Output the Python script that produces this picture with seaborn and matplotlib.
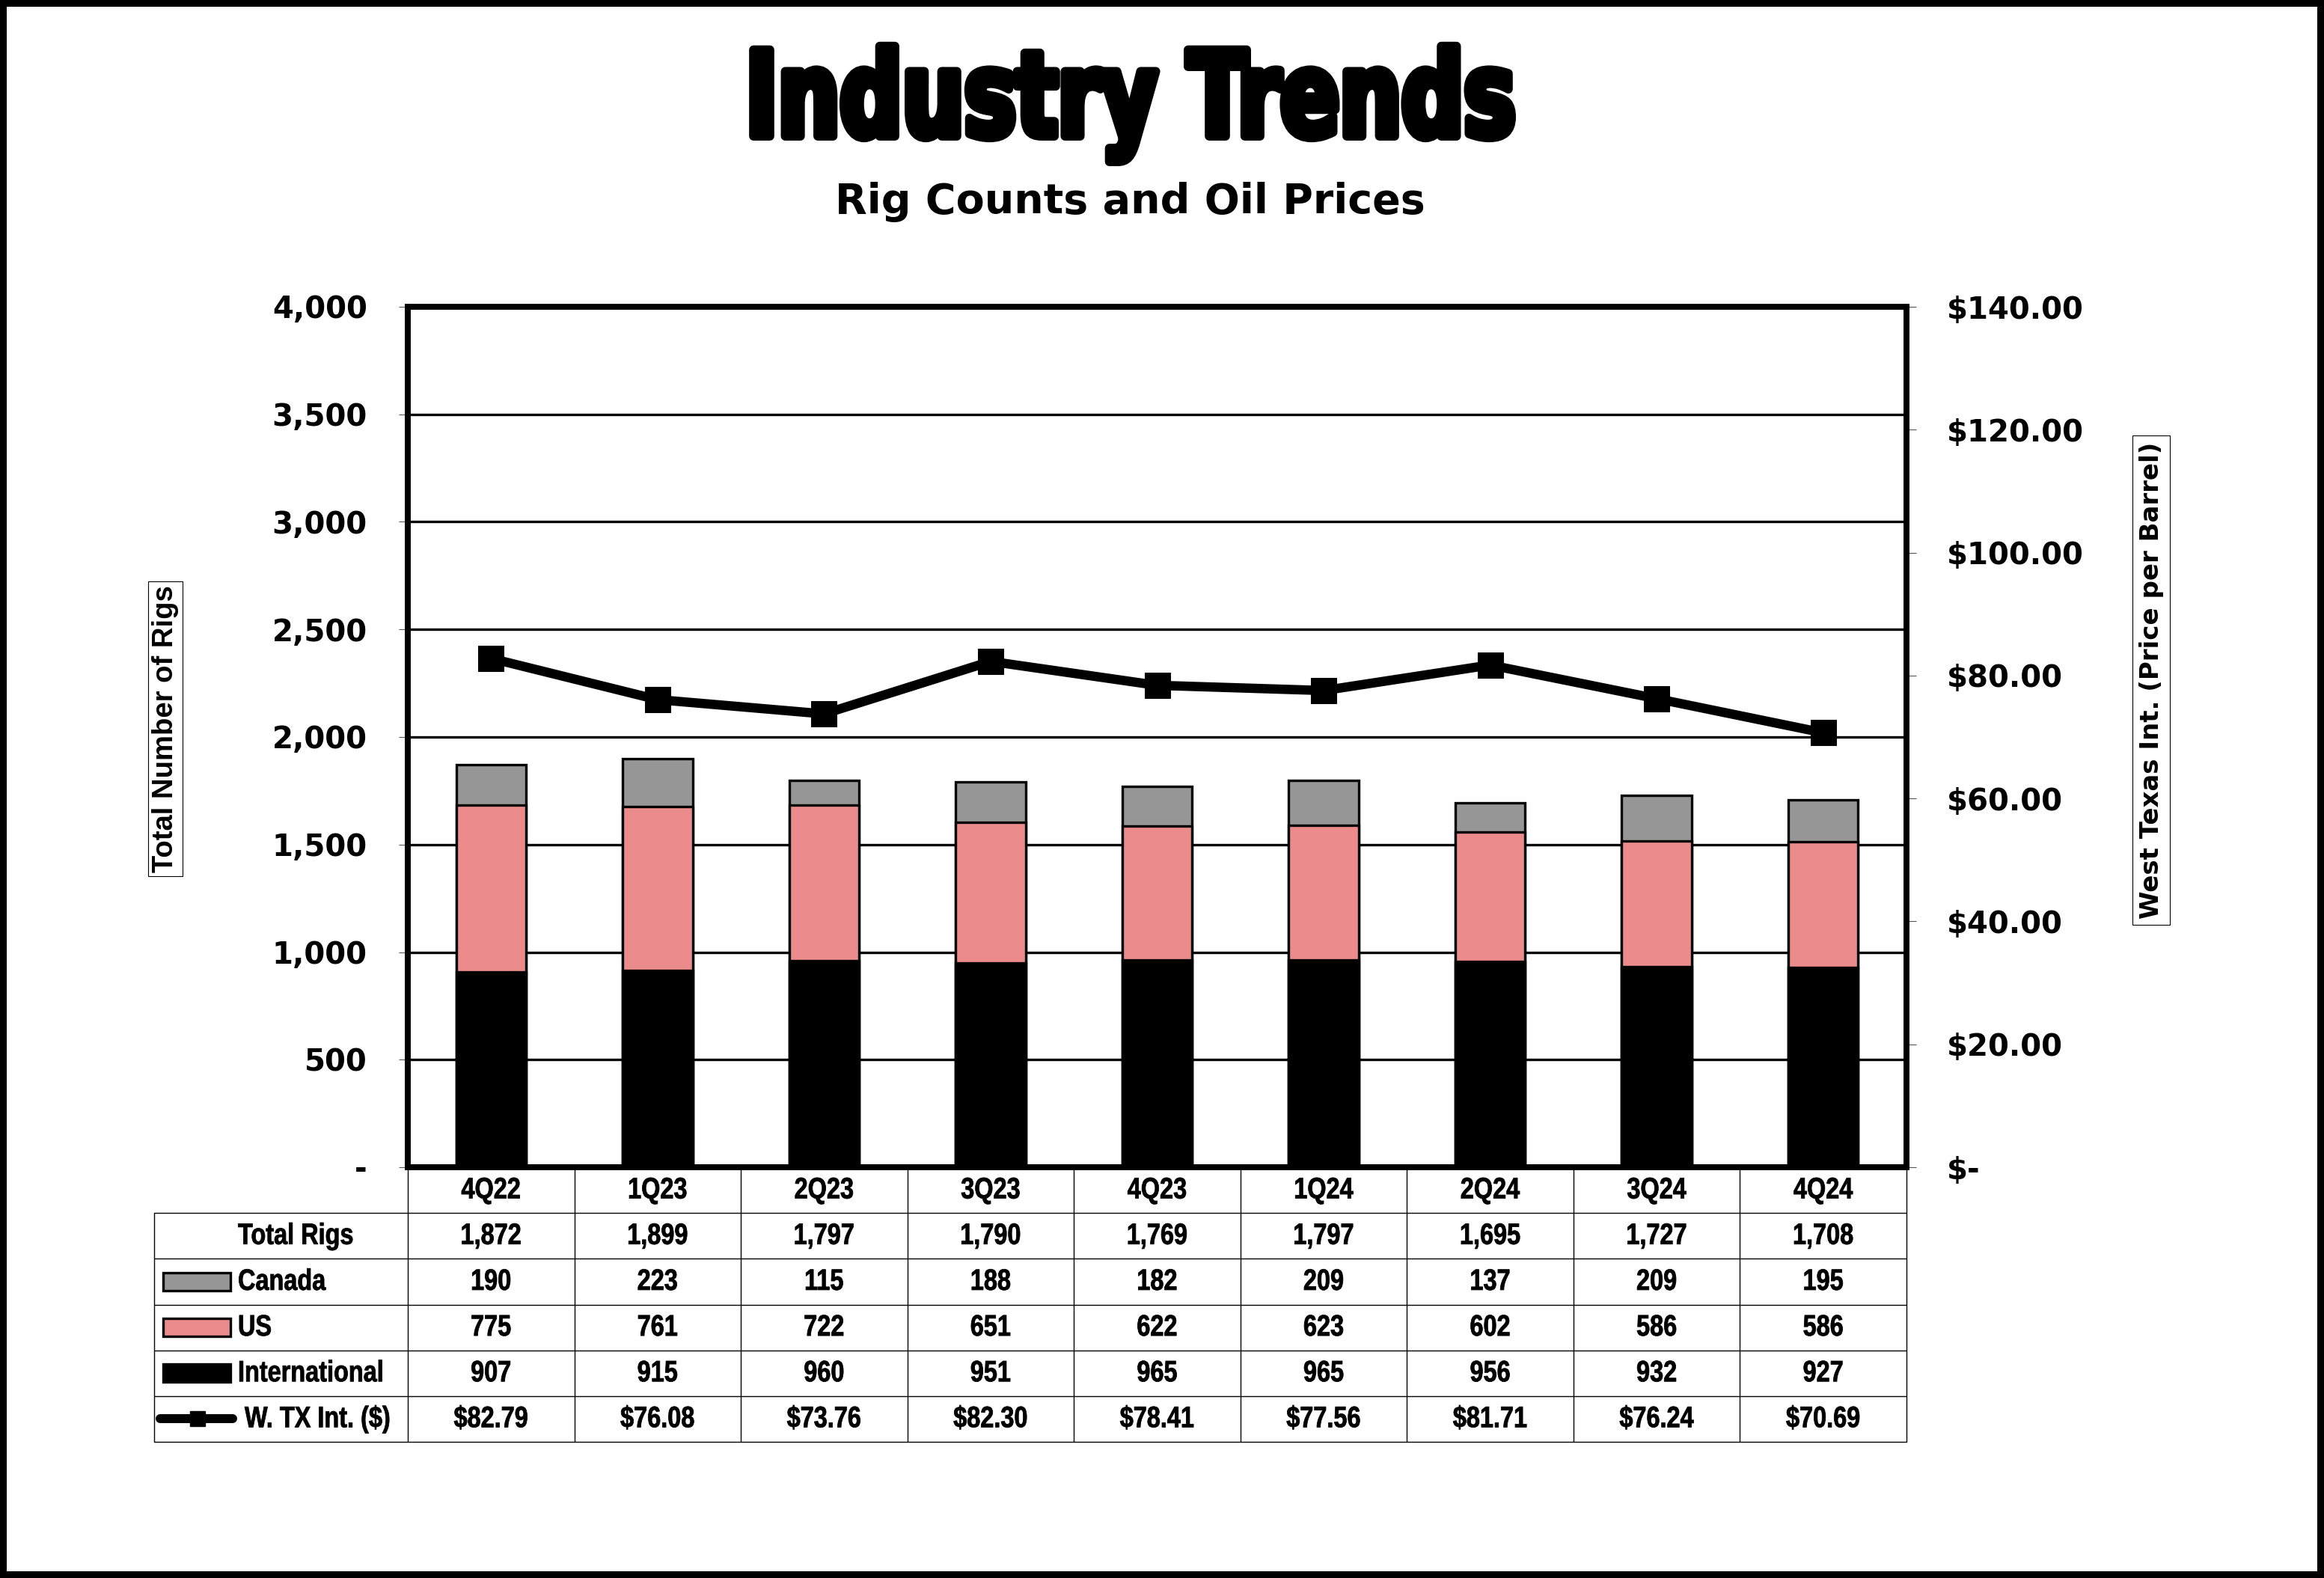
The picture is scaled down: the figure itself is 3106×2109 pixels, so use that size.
import numpy as np
import pandas as pd
import matplotlib.pyplot as plt
import seaborn as sns
from matplotlib.patches import Rectangle
from matplotlib.lines import Line2D
from matplotlib.ticker import FuncFormatter
from matplotlib.patheffects import AbstractPathEffect
from matplotlib.transforms import Affine2D

quarters = ['4Q22', '1Q23', '2Q23', '3Q23', '4Q23', '1Q24', '2Q24', '3Q24', '4Q24']
canada = [190, 223, 115, 188, 182, 209, 137, 209, 195]
us = [775, 761, 722, 651, 622, 623, 602, 586, 586]
international = [907, 915, 960, 951, 965, 965, 956, 932, 927]
wti = [82.79, 76.08, 73.76, 82.30, 78.41, 77.56, 81.71, 76.24, 70.69]

W, H, DPI = 3106, 2109, 100
GRAY = '#969696'
PINK = '#EC8B8B'


def fx(px):
    return px / W


def fy(py):
    return 1 - py / H


class Squeeze(AbstractPathEffect):
    """Narrow a text horizontally around its anchor (no narrow font installed)."""

    def __init__(self, text, sx, stroke=0):
        super().__init__()
        self.text, self.sx, self.stroke = text, sx, stroke

    def draw_path(self, renderer, gc, tpath, affine, rgbFace=None):
        x0 = self.text.get_transform().transform(self.text.get_position())[0]
        affine = affine + Affine2D().translate(-x0, 0).scale(self.sx, 1).translate(x0, 0)
        if self.stroke:
            gc0 = renderer.new_gc()
            gc0.copy_properties(gc)
            gc0.set_linewidth(self.stroke)
            gc0.set_foreground(rgbFace)
            gc0.set_joinstyle('round')
            renderer.draw_path(gc0, tpath, affine, rgbFace)
            gc0.restore()
        else:
            renderer.draw_path(gc, tpath, affine, rgbFace)


def squeeze(t, sx, stroke=0):
    t.set_path_effects([Squeeze(t, sx, stroke)])
    return t


df = pd.DataFrame({'quarter': quarters, 'Canada': canada, 'US': us,
                   'International': international, 'WTI': wti})
df['total'] = df['Canada'] + df['US'] + df['International']
df['us_top'] = df['US'] + df['International']

sns.set_style('white')
plt.rcParams['font.family'] = ['DejaVu Sans']
plt.rcParams['font.weight'] = 'bold'
plt.rcParams['text.color'] = 'black'

fig = plt.figure(figsize=(W / DPI, H / DPI), dpi=DPI)
ax = fig.add_axes([fx(545), fy(1560), fx(2548) - fx(545), (1560 - 410) / H])

# stacked bars drawn as overlapping cumulative totals
bar_kw = dict(x='quarter', order=quarters, width=0.42, saturation=1, errorbar=None,
              edgecolor='black', linewidth=2.4, ax=ax)
sns.barplot(data=df, y='total', color=GRAY, **bar_kw)
sns.barplot(data=df, y='us_top', color=PINK, **bar_kw)
sns.barplot(data=df, y='International', color='black', **bar_kw)

ax2 = ax.twinx()
sns.lineplot(x=np.arange(len(quarters)), y=df['WTI'].values, ax=ax2, color='black',
             linewidth=9, marker='s', markersize=24, markeredgecolor='black')

ax.set_xlim(-0.5, len(quarters) - 0.5)
ax.set_ylim(0, 4000)
ax2.set_ylim(0, 140)
ax.set_yticks(range(0, 4001, 500))
ax2.set_yticks(range(0, 141, 20))
ax.yaxis.set_major_formatter(FuncFormatter(lambda v, p: '-' if v == 0 else f'{int(v):,}'))
ax2.yaxis.set_major_formatter(FuncFormatter(lambda v, p: '$-' if v == 0 else f'${v:,.2f}'))
for a in (ax, ax2):
    a.set_xlabel('')
    a.set_ylabel('')
    a.tick_params(axis='x', bottom=False, labelbottom=False)
    a.tick_params(axis='y', direction='out', length=9, width=0.8, color='#555555',
                  labelcolor='black', pad=30, labelsize=29)
    for sp in a.spines.values():
        sp.set_linewidth(5.5)
        sp.set_color('black')
ax.yaxis.grid(True, color='black', linewidth=2.4)
ax.xaxis.grid(False)
ax2.grid(False)
ax.set_axisbelow(True)

# titles
t = fig.text(fx(1511), fy(182), 'Industry Trends', ha='center', va='baseline',
             fontsize=114, family='DejaVu Sans', weight='bold', color='black')
squeeze(t, 0.735, stroke=8.5)
fig.text(fx(1510), fy(285), 'Rig Counts and Oil Prices', ha='center', va='baseline',
         fontsize=40, family='DejaVu Sans', weight='bold', color='black')

# axis titles in boxes
fig.text(fx(221), fy(974), 'Total Number of Rigs', rotation=90, ha='center', va='center',
         family='Liberation Sans', fontsize=27.5, weight='bold',
         bbox=dict(boxstyle='square,pad=0.12', fc='white', ec='black', lw=0.8))
fig.text(fx(2875), fy(909), 'West Texas Int. (Price per Barrel)', rotation=90,
         ha='center', va='center', family='DejaVu Sans', fontsize=24.5, weight='bold',
         bbox=dict(boxstyle='square,pad=0.25', fc='white', ec='black', lw=0.8))

# data table under the chart
col_w = (2548 - 545) / len(quarters)
row_h = (1927 - 1560) / 6
x_left = -0.5 - (545 - 206) / col_w
ax_tab = fig.add_axes([fx(206), fy(1927), fx(2548) - fx(206), (1927 - 1560) / H])
ax_tab.set_xlim(x_left, len(quarters) - 0.5)
ax_tab.set_ylim(6, 0)
ax_tab.axis('off')


def px_to_col(px):
    return x_left + (px - 206) / col_w


lw_t = 1.0
for k in range(len(quarters) + 1):
    ax_tab.plot([k - 0.5, k - 0.5], [0, 6], color='black', lw=lw_t, clip_on=False)
ax_tab.plot([x_left, x_left], [1, 6], color='black', lw=lw_t, clip_on=False)
for r in range(1, 7):
    ax_tab.plot([x_left, len(quarters) - 0.5], [r, r], color='black', lw=lw_t, clip_on=False)

rows = [
    ('Total Rigs', [f'{v:,}' for v in df['total']]),
    ('Canada', [f'{v:,}' for v in canada]),
    ('US', [f'{v:,}' for v in us]),
    ('International', [f'{v:,}' for v in international]),
    ('W. TX Int. ($)', [f'${v:.2f}' for v in wti]),
]
txt_kw = dict(family='Liberation Sans', fontsize=28.5, weight='bold', va='center',
              color='black')
NARROW = 0.82
for i, q in enumerate(quarters):
    squeeze(ax_tab.text(i, 0.5, q, ha='center', **txt_kw), NARROW, stroke=0.6)
for r, (label, vals) in enumerate(rows, start=1):
    yc = r + 0.5
    lx = px_to_col(327 if label.startswith('W.') else 318)
    squeeze(ax_tab.text(lx, yc, label, ha='left', **txt_kw), NARROW, stroke=0.6)
    for i, v in enumerate(vals):
        squeeze(ax_tab.text(i, yc, v, ha='center', **txt_kw), NARROW, stroke=0.6)

sw_h = 24 / row_h
for r, color in [(2, GRAY), (3, PINK), (4, 'black')]:
    ax_tab.add_patch(Rectangle((px_to_col(218), r + 0.5 - sw_h / 2),
                               px_to_col(308) - px_to_col(218), sw_h,
                               fc=color, ec='black', lw=2.4, clip_on=False))
ax_tab.add_line(Line2D([px_to_col(214), px_to_col(311)], [5.5, 5.5], color='black',
                       lw=8.6, solid_capstyle='round', clip_on=False))
ax_tab.add_line(Line2D([px_to_col(264)], [5.5], color='black', marker='s',
                       markersize=14, clip_on=False))

# outer frame
fig.patches.append(Rectangle((0, 0), 1, 1, transform=fig.transFigure, fill=False,
                             ec='black', lw=13, joinstyle='round'))

fig.savefig('out.png', dpi=DPI)
